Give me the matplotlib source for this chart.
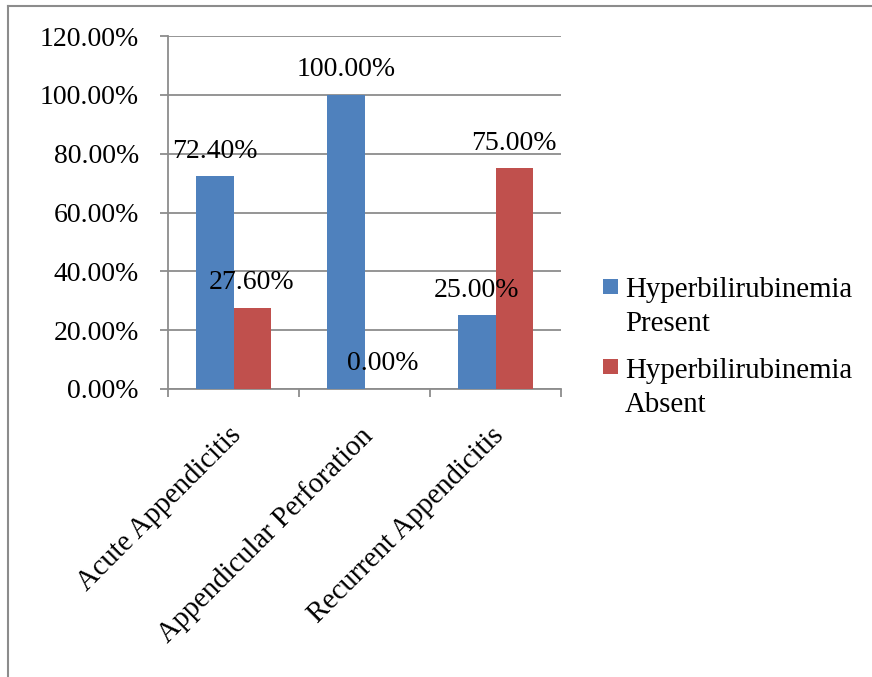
import matplotlib
matplotlib.use("Agg")
import matplotlib.pyplot as plt
import matplotlib.transforms as mtransforms
from matplotlib.lines import Line2D
from matplotlib.patches import Rectangle
import numpy as np

plt.rcParams['font.family'] = ['Liberation Serif', 'DejaVu Serif']

categories = ["Acute Appendicitis", "Appendicular Perforation", "Recurrent Appendicitis"]
present = [72.40, 100.00, 25.00]
absent = [27.60, 0.00, 75.00]
series_names = ["Hyperbilirubinemia\nPresent", "Hyperbilirubinemia\nAbsent"]
y_ticks = [0, 20, 40, 60, 80, 100, 120]

BLUE = "#4F81BD"
RED = "#C0504D"
GRID = "#8C8C8C"
FS = 20

W, H = 872, 677
fig = plt.figure(figsize=(W / 100, H / 100), dpi=100)

def fx(px):
    return px / W

def fy(py):
    return 1 - py / H

ax = fig.add_axes([fx(168), fy(389), fx(561) - fx(168), fy(36) - fy(389)])

x = np.arange(len(categories))
bw = 0.283
b1 = ax.bar(x - bw / 2, present, bw, color=BLUE, zorder=3)
b2 = ax.bar(x + bw / 2, absent, bw, color=RED, zorder=3)

for bars, vals in ((b1, present), (b2, absent)):
    for rect, v in zip(bars, vals):
        ax.annotate(f"{v:.2f}%", (rect.get_x() + rect.get_width() / 2, v),
                    xytext=(0, 18), textcoords="offset points",
                    ha="center", va="center", fontsize=FS, zorder=4)

ax.set_xlim(-0.5, len(categories) - 0.5)
ax.set_ylim(0, 120)
ax.set_yticks(y_ticks)
ax.set_yticklabels([f"{v:.2f}%" for v in y_ticks], fontsize=FS)
ax.yaxis.grid(True, color=GRID, linewidth=1.3, zorder=0)
ax.set_axisbelow(True)

ax.set_xticks(x)
ax.set_xticklabels(categories, fontsize=20.6, rotation=45, ha="right",
                   rotation_mode="anchor")
ax.set_xticks(np.arange(len(categories) + 1) - 0.5, minor=True)
ax.tick_params(axis="x", which="major", length=0, pad=24)
ax.tick_params(axis="x", which="minor", length=6, width=1.3, color=GRID, direction="out")
ax.tick_params(axis="y", length=6, width=1.3, color=GRID, direction="out", pad=15)

shift = mtransforms.ScaledTranslation(-5 / 100, 0, fig.dpi_scale_trans)
for lab in ax.get_xticklabels():
    lab.set_transform(lab.get_transform() + shift)

for side in ("top", "right"):
    ax.spines[side].set_visible(False)
for side in ("left", "bottom"):
    ax.spines[side].set_color(GRID)
    ax.spines[side].set_linewidth(1.3)

# legend drawn in figure pixels: (square top, colour, first baseline)
legend_rows = [(279, BLUE, 297), (359, RED, 378)]
line_gap = 33.5
for (top, color, base), name in zip(legend_rows, series_names):
    fig.patches.append(Rectangle((fx(603), fy(top + 15)), fx(15), fy(0) - fy(15),
                                 transform=fig.transFigure, facecolor=color,
                                 edgecolor="none"))
    for i, line in enumerate(name.split("\n")):
        fig.text(fx(625), fy(base + i * line_gap), line, fontsize=20.8,
                 ha="left", va="baseline")

# outer frame (left and top edges)
fig.add_artist(Line2D([fx(8), fx(8)], [0, fy(6)], color=GRID, linewidth=1.5,
                      transform=fig.transFigure))
fig.add_artist(Line2D([fx(8), 1], [fy(6), fy(6)], color=GRID, linewidth=1.5,
                      transform=fig.transFigure))

fig.savefig("out.png", dpi=100)
